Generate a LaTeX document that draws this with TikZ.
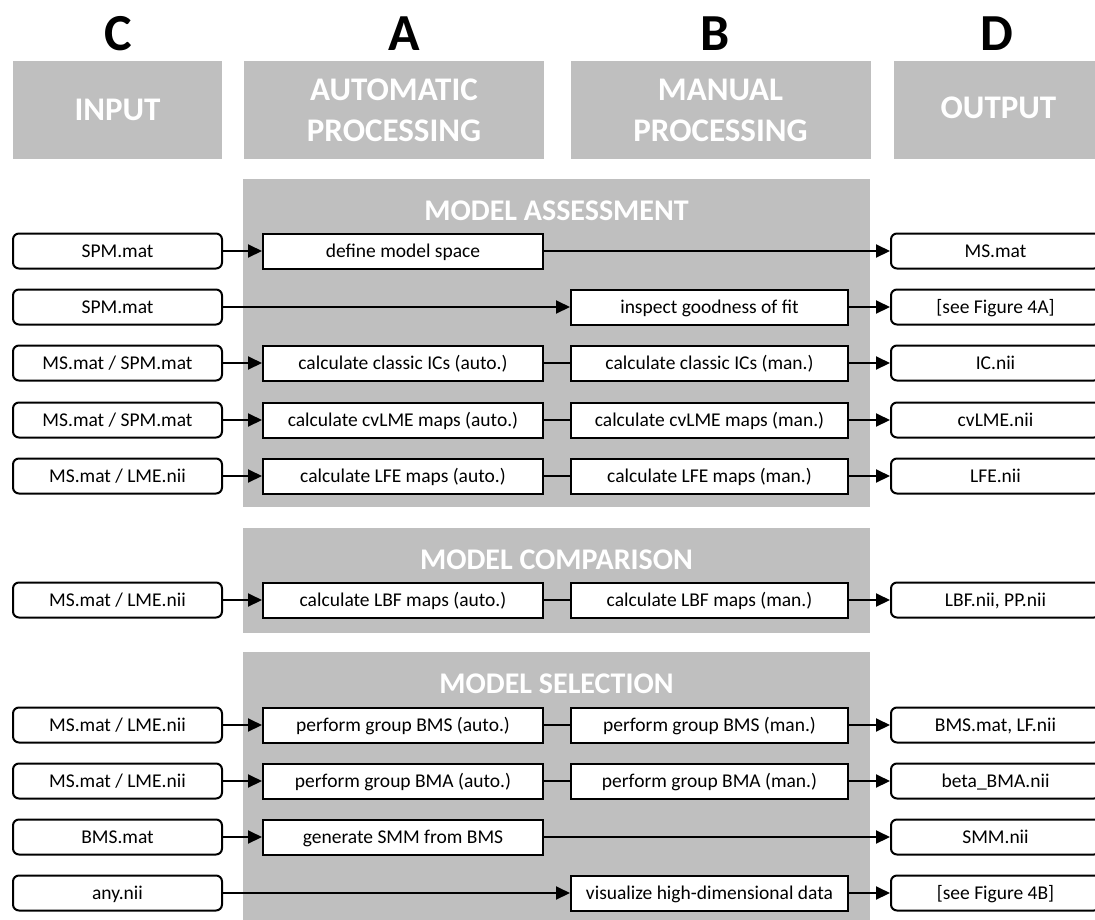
\documentclass[tikz,border=0pt]{standalone}
\usepackage{fontspec}
\setmainfont{Carlito}
\usetikzlibrary{arrows.meta}
\definecolor{pgray}{HTML}{BFBFBF}
\begin{document}
\begin{tikzpicture}[x=1pt,y=-1pt,
  box/.style={draw, line width=2pt, fill=white, minimum height=35pt, inner sep=0pt,
              text height=12.6pt, text depth=0pt,
              font=\fontsize{19.5}{22}\selectfont},
  iobox/.style={box, rounded corners=6pt, minimum width=209pt},
  autobox/.style={box, minimum width=280pt},
  manbox/.style={box, minimum width=277pt},
  conn/.style={line width=2pt},
  arr/.style={conn, -{Triangle[length=14pt,width=13pt]}},
  panel/.style={fill=pgray},
  headbox/.style={fill=pgray, text=white, font=\fontsize{33}{41}\selectfont\bfseries, align=center, minimum height=98pt, inner sep=0pt},
  letter/.style={font=\fontsize{52}{52}\selectfont\bfseries, inner sep=0pt},
  sectitle/.style={text=white, font=\fontsize{30}{30}\selectfont\bfseries, inner sep=0pt, anchor=base}
]
\useasboundingbox (0,0) rectangle (1095,919);
% column letters
\node[letter] (lc) at (118,34) {C};
\node[letter] (la) at (404,34) {A};
\node[letter] (lb) at (715,34) {B};
\node[letter] (ld) at (997,34) {D};
% header boxes
\node[headbox, minimum width=209pt] (hin) at (117.5,110) {INPUT};
\node[headbox, minimum width=300pt] (hauto) at (394,110) {AUTOMATIC\\PROCESSING};
\node[headbox, minimum width=300pt] (hman) at (720.5,110) {MANUAL\\PROCESSING};
\node[headbox, minimum width=209pt] (hout) at (998.5,110) {OUTPUT\vphantom{g}};
% panels
\fill[panel] (243,179) rectangle (870,507);
\fill[panel] (243,528) rectangle (870,633);
\fill[panel] (243,652) rectangle (870,925);
\node[sectitle] (tass) at (556.5,220) {MODEL ASSESSMENT};
\node[sectitle] (tcmp) at (556.5,569) {MODEL COMPARISON};
\node[sectitle] (tsel) at (556.5,693) {MODEL SELECTION};

% ---- Model assessment
\node[iobox] (i1) at (117.5,251) {SPM.mat};
\node[autobox] (a1) at (403,251) {define model space};
\node[iobox] (o1) at (995.5,251) {MS.mat};
\draw[arr] (i1) -- (a1);
\draw[arr] (a1) -- (o1);

\node[iobox] (i2) at (117.5,307) {SPM.mat};
\node[manbox] (m2) at (709.5,307) {inspect goodness of fit};
\node[iobox] (o2) at (995.5,307) {[see Figure 4A]};
\draw[arr] (i2) -- (m2);
\draw[arr] (m2) -- (o2);

\node[iobox] (i3) at (117.5,363) {MS.mat / SPM.mat};
\node[autobox] (a3) at (403,363) {calculate classic ICs (auto.)};
\node[manbox] (m3) at (709.5,363) {calculate classic ICs (man.)};
\node[iobox] (o3) at (995.5,363) {IC.nii};
\draw[arr] (i3) -- (a3);
\draw[conn] (a3) -- (m3);
\draw[arr] (m3) -- (o3);

\node[iobox] (i4) at (117.5,420) {MS.mat / SPM.mat};
\node[autobox] (a4) at (403,420) {calculate cvLME maps (auto.)};
\node[manbox] (m4) at (709.5,420) {calculate cvLME maps (man.)};
\node[iobox] (o4) at (995.5,420) {cvLME.nii};
\draw[arr] (i4) -- (a4);
\draw[conn] (a4) -- (m4);
\draw[arr] (m4) -- (o4);

\node[iobox] (i5) at (117.5,476) {MS.mat / LME.nii};
\node[autobox] (a5) at (403,476) {calculate LFE maps (auto.)};
\node[manbox] (m5) at (709.5,476) {calculate LFE maps (man.)};
\node[iobox] (o5) at (995.5,476) {LFE.nii};
\draw[arr] (i5) -- (a5);
\draw[conn] (a5) -- (m5);
\draw[arr] (m5) -- (o5);

% ---- Model comparison
\node[iobox] (i6) at (117.5,600) {MS.mat / LME.nii};
\node[autobox] (a6) at (403,600) {calculate LBF maps (auto.)};
\node[manbox] (m6) at (709.5,600) {calculate LBF maps (man.)};
\node[iobox] (o6) at (995.5,600) {LBF.nii, PP.nii};
\draw[arr] (i6) -- (a6);
\draw[conn] (a6) -- (m6);
\draw[arr] (m6) -- (o6);

% ---- Model selection
\node[iobox] (i7) at (117.5,725) {MS.mat / LME.nii};
\node[autobox] (a7) at (403,725) {perform group BMS (auto.)};
\node[manbox] (m7) at (709.5,725) {perform group BMS (man.)};
\node[iobox] (o7) at (995.5,725) {BMS.mat, LF.nii};
\draw[arr] (i7) -- (a7);
\draw[conn] (a7) -- (m7);
\draw[arr] (m7) -- (o7);

\node[iobox] (i8) at (117.5,781) {MS.mat / LME.nii};
\node[autobox] (a8) at (403,781) {perform group BMA (auto.)};
\node[manbox] (m8) at (709.5,781) {perform group BMA (man.)};
\node[iobox] (o8) at (995.5,781) {beta\_BMA.nii};
\draw[arr] (i8) -- (a8);
\draw[conn] (a8) -- (m8);
\draw[arr] (m8) -- (o8);

\node[iobox] (i9) at (117.5,837) {BMS.mat};
\node[autobox] (a9) at (403,837) {generate SMM from BMS};
\node[iobox] (o9) at (995.5,837) {SMM.nii};
\draw[arr] (i9) -- (a9);
\draw[arr] (a9) -- (o9);

\node[iobox] (i10) at (117.5,893) {any.nii};
\node[manbox] (m10) at (709.5,893) {visualize high-dimensional data};
\node[iobox] (o10) at (995.5,893) {[see Figure 4B]};
\draw[arr] (i10) -- (m10);
\draw[arr] (m10) -- (o10);
\end{tikzpicture}
\end{document}
